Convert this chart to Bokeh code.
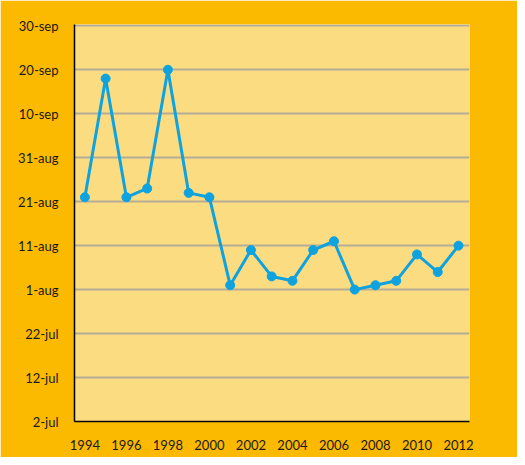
from bokeh.plotting import figure
from bokeh.models import FixedTicker, Range1d
from bokeh.embed import file_html
from bokeh.resources import INLINE

# Data: year and date (days after 2 July)
years = [1994, 1995, 1996, 1997, 1998, 1999, 2000, 2001, 2002, 2003,
         2004, 2005, 2006, 2007, 2008, 2009, 2010, 2011, 2012]
days_after_2jul = [51, 78, 51, 53, 80, 52, 51, 31, 39, 33,
                   32, 39, 41, 30, 31, 32, 38, 34, 40]

y_ticks = [0, 10, 20, 30, 40, 50, 60, 70, 80, 90]
y_tick_labels = ["2-jul", "12-jul", "22-jul", "1-aug", "11-aug",
                 "21-aug", "31-aug", "10-sep", "20-sep", "30-sep"]
x_ticks = [1994, 1996, 1998, 2000, 2002, 2004, 2006, 2008, 2010, 2012]

ORANGE = "#FBB900"
PANEL = "#FCDC80"
BLUE = "#0EA3DF"

p = figure(width=517, height=457, output_backend="svg", toolbar_location=None,
           x_range=Range1d(1993.5, 2012.53), y_range=Range1d(0, 90.3),
           min_border_left=74, min_border_right=48, min_border_top=24,
           min_border_bottom=36)
p.border_fill_color = ORANGE
p.background_fill_color = PANEL
p.outline_line_color = None

p.line(years, days_after_2jul, line_color=BLUE, line_width=3)
p.scatter(years, days_after_2jul, size=9, fill_color=BLUE, line_color=BLUE)

p.xaxis.ticker = FixedTicker(ticks=x_ticks)
p.yaxis.ticker = FixedTicker(ticks=y_ticks)
p.yaxis.major_label_overrides = {t: l for t, l in zip(y_ticks, y_tick_labels)}

for ax in (p.xaxis[0], p.yaxis[0]):
    ax.axis_line_color = "black"
    ax.axis_line_width = 1.5
    ax.major_tick_line_color = None
    ax.minor_tick_line_color = None
    ax.major_label_text_font = "Lato"
    ax.major_label_text_font_size = "13px"
    ax.major_label_text_color = "#1a1a1a"
p.yaxis.major_label_standoff = 10
p.xaxis.major_label_standoff = 12

p.xgrid.grid_line_color = None
p.ygrid.grid_line_color = "#B5AC98"
p.ygrid.grid_line_width = 2

open("out.html", "w").write(file_html(p, INLINE))
